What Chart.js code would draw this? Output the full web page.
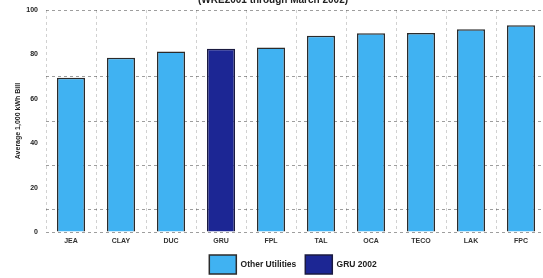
<!DOCTYPE html>
<html>
<head>
<meta charset="utf-8">
<script src="https://cdn.jsdelivr.net/npm/chart.js@4/dist/chart.umd.min.js"></script>
<style>
  html, body { margin: 0; padding: 0; background: #fff; overflow: hidden; width: 543px; height: 278px; }
  #wrap { position: absolute; left: 0; top: -6px; width: 594px; height: 290px; }
</style>
</head>
<body>
<div id="wrap"><canvas id="c" width="594" height="290"></canvas></div>
<script>
const categories = ['JEA', 'CLAY', 'DUC', 'GRU', 'FPL', 'TAL', 'OCA', 'TECO', 'LAK', 'FPC'];
const billValues = [69.5, 78.5, 81.3, 82.6, 83.1, 88.4, 89.5, 89.6, 91.3, 93.1];
const highlightCategory = 'GRU';
const seriesNames = ['Other Utilities', 'GRU 2002'];
const yTickLabels = [0, 20, 40, 60, 80, 100];
const yGridValues = [0, 10, 30, 50, 70, 100];
const titleText = '(WRE2001 through March 2002)';
const yAxisTitle = 'Average 1,000 kWh Bill';

const otherData = categories.map((c, i) => c === highlightCategory ? null : billValues[i]);
const gruData = categories.map((c, i) => c === highlightCategory ? billValues[i] : null);

const FONT = 'Liberation Sans, Arial, sans-serif';

const legendShift = {
  id: 'legendShift',
  afterLayout(chart) {
    const l = chart.legend;
    if (!l) return;
    l.left += 20; l.right += 20;
    if (l.legendHitBoxes) l.legendHitBoxes.forEach(b => { b.left += 20; });
  }
};

new Chart(document.getElementById('c'), {
  type: 'bar',
  data: {
    labels: categories,
    datasets: [
      { label: seriesNames[0], data: otherData, backgroundColor: '#40b2f2', borderColor: '#2b2b2b', borderWidth: 1.5, barPercentage: 0.56, categoryPercentage: 1, grouped: false },
      { label: seriesNames[1], data: gruData, backgroundColor: '#1c2694', borderColor: '#1a1a40', borderWidth: 1.5, barPercentage: 0.56, categoryPercentage: 1, grouped: false }
    ]
  },
  options: {
    responsive: false,
    animation: false,
    layout: { padding: { left: 0, right: 48, top: 0, bottom: 0 } },
    plugins: {
      title: { display: true, text: titleText, font: { family: FONT, size: 10, weight: 'bold' }, color: '#222', padding: { top: 0, bottom: 4 } },
      legend: {
        position: 'bottom',
        labels: {
          boxWidth: 27, boxHeight: 19, padding: 9,
          font: { family: FONT, size: 8.5, weight: '600' }, color: '#222'
        }
      },
      tooltip: { enabled: false }
    },
    scales: {
      x: {
        grid: {
          offset: true, drawTicks: false,
          color: 'rgba(0,0,0,0.18)', lineWidth: 1
        },
        border: { display: false, dash: [3, 3] },
        ticks: { font: { family: FONT, size: 7, weight: 'bold' }, color: '#333', padding: 5 },
        afterFit: (s) => { s.height = 14; }
      },
      y: {
        min: 0, max: 100,
        ticks: {
          stepSize: 10,
          font: { family: FONT, size: 7, weight: 'bold' }, color: '#222', padding: 8,
          callback: (v) => yTickLabels.includes(v) ? String(v) : ''
        },
        grid: {
          drawTicks: false,
          color: (ctx) => {
            const v = ctx.tick ? ctx.tick.value : null;
            return (v !== null && yGridValues.includes(v)) ? 'rgba(0,0,0,0.38)' : 'rgba(0,0,0,0)';
          },
          lineWidth: 1
        },
        border: { display: false, dash: [3, 3] },
        title: { display: true, text: yAxisTitle, font: { family: FONT, size: 7, weight: 'bold' }, color: '#222', padding: { top: 14, bottom: 0 } },
        afterFit: (s) => { s.width = 46; }
      }
    }
  },
  plugins: [legendShift]
});
</script>
</body>
</html>
